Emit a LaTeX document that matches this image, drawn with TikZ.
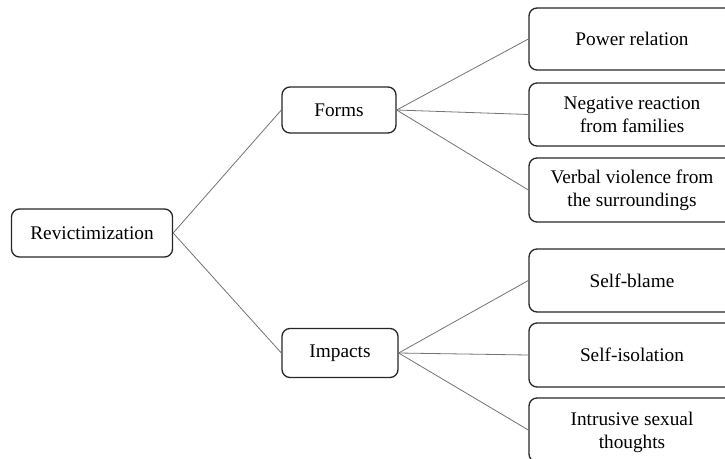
\documentclass[tikz,border=0pt]{standalone}
\usepackage{fontspec}
\setmainfont{Liberation Serif}
\begin{document}
\begin{tikzpicture}[x=1pt,y=-1pt,
  box/.style={draw=black!85, line width=1.3pt, rounded corners=8pt, align=center,
    font=\fontsize{19.3}{23}\selectfont, inner sep=0pt},
  link/.style={draw=black!55, line width=0.8pt}]
\useasboundingbox (0,0) rectangle (725,458);
\node[box, minimum width=161pt, minimum height=48pt] (rev) at (92,233) {Revictimization};
\node[box, minimum width=114pt, minimum height=46pt] (forms) at (339,110) {Forms};
\node[box, minimum width=116pt, minimum height=49pt] (imp) at (340,353) {Impacts};
\node[box, minimum width=206pt, minimum height=62pt] (pow) at (632,39) {Power relation};
\node[box, minimum width=206pt, minimum height=63pt] (neg) at (632,114.5) {Negative reaction\\from families};
\node[box, minimum width=206pt, minimum height=64pt] (verb) at (632,190) {Verbal violence from\\the surroundings};
\node[box, minimum width=206pt, minimum height=63pt] (blame) at (632,280.5) {Self-blame};
\node[box, minimum width=206pt, minimum height=64pt] (iso) at (632,355) {Self-isolation};
\node[box, minimum width=206pt, minimum height=64pt, text depth=0pt] (intr) at (632,430) {Intrusive sexual\\thoughts};
\draw[link] (rev.east) -- (forms.west);
\draw[link] (rev.east) -- (imp.west);
\draw[link] (forms.east) -- (pow.west);
\draw[link] (forms.east) -- (neg.west);
\draw[link] (forms.east) -- (verb.west);
\draw[link] (imp.east) -- (blame.west);
\draw[link] (imp.east) -- (iso.west);
\draw[link] (imp.east) -- (intr.west);
\end{tikzpicture}
\end{document}
